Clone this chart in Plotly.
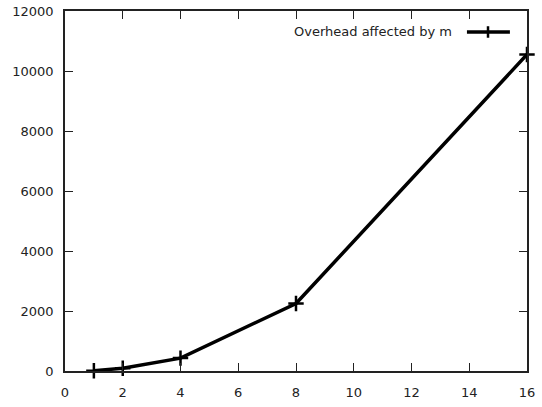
import plotly.graph_objects as go

m_values = [1, 2, 4, 8, 16]
overhead = [10, 90, 430, 2250, 10550]
x_ticks = [0, 2, 4, 6, 8, 10, 12, 14, 16]
y_ticks = [0, 2000, 4000, 6000, 8000, 10000, 12000]
series_name = "Overhead affected by m"

fig = go.Figure()
fig.add_trace(go.Scatter(
    x=m_values, y=overhead, mode="lines+markers", name=series_name,
    line=dict(color="black", width=3.5),
    marker=dict(symbol="cross-thin", size=11, line=dict(color="black", width=2.5)),
    showlegend=False, cliponaxis=False,
))

axis_common = dict(
    showgrid=False, zeroline=False, showline=True, linecolor="#222", linewidth=1.5,
    mirror="ticks", ticks="inside", ticklen=8, tickwidth=1.2, tickcolor="#222",
    tickfont=dict(family="DejaVu Sans", size=13, color="#222"), automargin=False,
)
fig.update_xaxes(range=[0, 16], tickvals=x_ticks, ticktext=[str(v) for v in x_ticks],
                 ticklabelstandoff=9, **axis_common)
fig.update_yaxes(range=[0, 12000], tickvals=y_ticks, ticktext=[str(v) for v in y_ticks],
                 ticklabelstandoff=7, **axis_common)

# gnuplot-style key: text on the left, sample on the right
ky = 0.9417
fig.add_annotation(xref="paper", yref="paper", x=0.842, y=ky, xanchor="right", yanchor="middle",
                   text=series_name, showarrow=False,
                   font=dict(family="DejaVu Sans", size=13, color="#222"))
fig.add_shape(type="line", xref="paper", yref="paper", x0=0.870, x1=0.963, y0=ky, y1=ky,
              line=dict(color="black", width=3.5))
fig.add_shape(type="line", xref="paper", yref="paper", x0=0.9156, x1=0.9156, y0=ky - 0.016, y1=ky + 0.016,
              line=dict(color="black", width=2.5))

fig.update_layout(
    width=542, height=407, margin=dict(l=65, r=15, t=11, b=36),
    paper_bgcolor="white", plot_bgcolor="white",
)
fig.write_html("out.html", config={"displayModeBar": False},
               post_script="document.body.style.margin='0';document.body.style.overflow='hidden';")
